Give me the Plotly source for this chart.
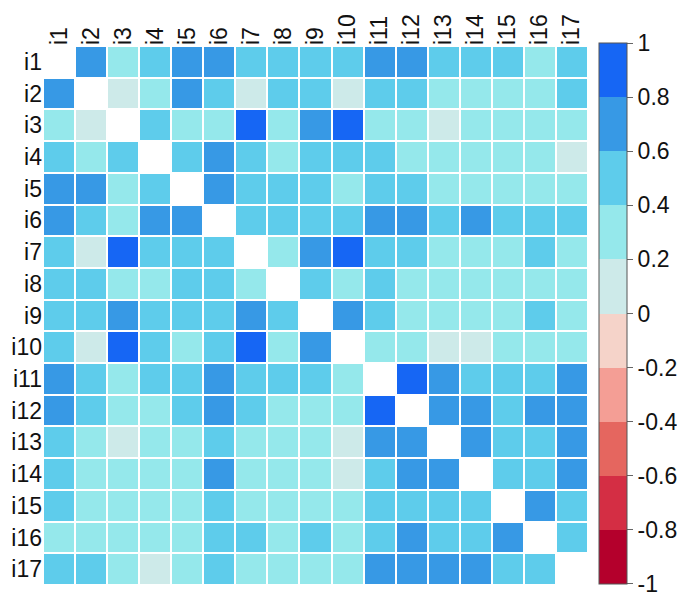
import plotly.graph_objects as go

labels = [f"i{k}" for k in range(1, 18)]

# upper-triangle correlations, row i -> columns j>i
upper = [
    [0.7, 0.3, 0.5, 0.7, 0.7, 0.5, 0.5, 0.5, 0.5, 0.7, 0.7, 0.5, 0.5, 0.5, 0.3, 0.5],
    [0.1, 0.3, 0.7, 0.5, 0.1, 0.5, 0.5, 0.1, 0.5, 0.5, 0.3, 0.3, 0.3, 0.3, 0.5],
    [0.5, 0.3, 0.3, 0.9, 0.3, 0.7, 0.9, 0.3, 0.3, 0.1, 0.3, 0.3, 0.3, 0.3],
    [0.5, 0.7, 0.5, 0.3, 0.5, 0.5, 0.5, 0.3, 0.3, 0.3, 0.3, 0.3, 0.1],
    [0.7, 0.5, 0.5, 0.5, 0.3, 0.5, 0.5, 0.3, 0.3, 0.3, 0.3, 0.3],
    [0.5, 0.5, 0.5, 0.5, 0.7, 0.7, 0.5, 0.7, 0.5, 0.5, 0.5],
    [0.3, 0.7, 0.9, 0.5, 0.5, 0.3, 0.3, 0.3, 0.5, 0.3],
    [0.5, 0.3, 0.5, 0.3, 0.3, 0.3, 0.3, 0.3, 0.3],
    [0.7, 0.5, 0.3, 0.3, 0.3, 0.3, 0.5, 0.3],
    [0.3, 0.3, 0.1, 0.1, 0.3, 0.3, 0.3],
    [0.9, 0.7, 0.5, 0.5, 0.5, 0.7],
    [0.7, 0.7, 0.5, 0.7, 0.7],
    [0.7, 0.5, 0.5, 0.7],
    [0.5, 0.5, 0.7],
    [0.7, 0.5],
    [0.5],
]

bin_edges = [-1, -0.8, -0.6, -0.4, -0.2, 0, 0.2, 0.4, 0.6, 0.8, 1]
bin_colors = ["#B4002C", "#D42E44", "#E5665F", "#F49E95", "#F5D3C9",
              "#CDEAE9", "#95E8EB", "#5ECCEB", "#3799E5", "#1666F4"]
tick_vals = [0.999, 0.8, 0.6, 0.4, 0.2, 0, -0.2, -0.4, -0.6, -0.8, -0.999]
tick_text = ["1", "0.8", "0.6", "0.4", "0.2", "0", "-0.2", "-0.4", "-0.6", "-0.8", "-1"]

n = len(labels)
z = [[None] * n for _ in range(n)]
for i, row in enumerate(upper):
    for k, v in enumerate(row):
        j = i + 1 + k
        z[i][j] = v
        z[j][i] = v

colorscale = []
for b, c in enumerate(bin_colors):
    lo = (bin_edges[b] + 1) / 2
    hi = (bin_edges[b + 1] + 1) / 2
    colorscale.append([lo, c])
    colorscale.append([hi, c])

font = "Liberation Sans, Arial, sans-serif"
fsize = 23

W, H = 677, 589  # page body has an 8px default margin; compensate

fig = go.Figure(go.Heatmap(
    z=z, x=labels, y=labels,
    zmin=-1, zmax=1,
    colorscale=colorscale,
    xgap=2, ygap=2,
    hoverongaps=False,
    colorbar=dict(
        thickness=28,
        thicknessmode="pixels",
        lenmode="pixels",
        len=541,
        xref="container",
        x=591 / W,
        xanchor="left",
        xpad=0,
        y=1 + 3 / 539,
        yanchor="top",
        ypad=0,
        outlinecolor="#555555",
        outlinewidth=1,
        tickmode="array",
        tickvals=tick_vals,
        ticktext=tick_text,
        ticks="outside",
        ticklen=6,
        tickcolor="#666666",
        tickfont=dict(family=font, size=fsize, color="#111111"),
    ),
))

fig.update_layout(
    width=W, height=H,
    margin=dict(l=35, r=97, t=38, b=12),
    paper_bgcolor="white",
    plot_bgcolor="white",
    xaxis=dict(side="top", tickangle=-90, showgrid=False, zeroline=False,
               tickfont=dict(family=font, size=fsize, color="#111111"), ticks="",
               showline=False, automargin=False),
    yaxis=dict(autorange="reversed", showgrid=False, zeroline=False,
               tickfont=dict(family=font, size=fsize, color="#111111"), ticks="",
               showline=False, automargin=False),
)

fig.write_html("out.html")
